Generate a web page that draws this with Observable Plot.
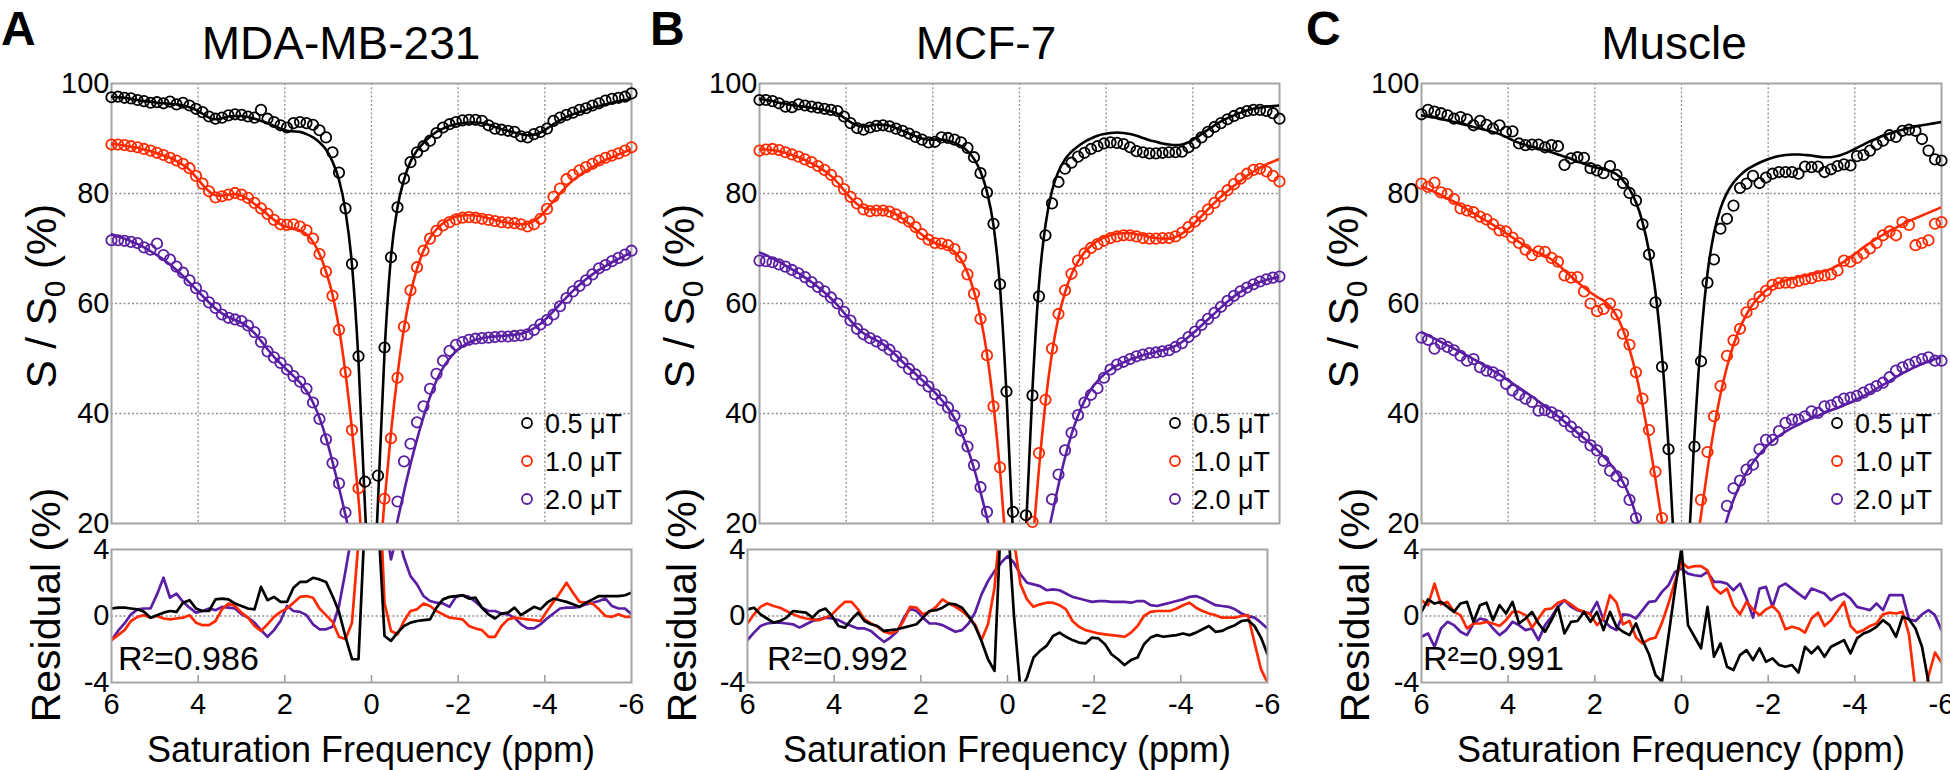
<!DOCTYPE html>
<html><head><meta charset="utf-8">
<script src="https://cdn.jsdelivr.net/npm/d3@7"></script>
<script src="https://cdn.jsdelivr.net/npm/@observablehq/plot@0.6"></script>
<style>
body{margin:0;background:#fff;overflow:hidden;}
#fig{position:relative;width:1950px;height:770px;overflow:hidden;background:#fff;}
#fig svg{position:absolute;}
</style></head><body><div id="fig"></div><script>
// ---------- shared categories / ticks ----------
const offsets = [6,5.85,5.7,5.55,5.4,5.25,5.1,4.95,4.8,4.65,
 4.5,4.35,4.2,4.05,3.9,3.75,3.6,3.45,3.3,3.15,
 3,2.85,2.7,2.55,2.4,2.25,2.1,1.95,1.8,1.65,
 1.5,1.35,1.2,1.05,0.9,0.75,0.6,0.45,0.3,0.15,
 0,
 -0.15,-0.3,-0.45,-0.6,-0.75,-0.9,-1.05,-1.2,-1.35,-1.5,
 -1.65,-1.8,-1.95,-2.1,-2.25,-2.4,-2.55,-2.7,-2.85,-3,
 -3.15,-3.3,-3.45,-3.6,-3.75,-3.9,-4.05,-4.2,-4.35,-4.5,
 -4.65,-4.8,-4.95,-5.1,-5.25,-5.4,-5.55,-5.7,-5.85,-6];
const fields = ["0.5 μT","1.0 μT","2.0 μT"];
const fieldColors = ["#000000","#ff2a00","#5a1ea3"];
const panelNames = ["MDA-MB-231","MCF-7","Muscle"];
const panelLetters = ["A","B","C"];
const r2Values = ["0.986","0.992","0.991"];
const xTicks = [6,4,2,0,-2,-4,-6];
const xGrid = [4,2,0,-2,-4];
const yTicks = [20,40,60,80,100];
const yGrid = [40,60,80];
const resTicks = [-4,0,4];

// ---------- A: MDA-MB-231 ----------
const ptsA05 = [97.5,97.6,97.4,97.3,97.0,96.8,96.5,96.6,96.4,96.7,
 96.2,96.5,96.0,95.4,94.8,94.0,93.6,93.8,94.2,94.4,
 94.3,94.0,93.8,95.2,93.6,93.0,92.4,92.0,92.8,93.0,
 92.8,92.5,91.5,90.2,87.5,83.8,77.3,67.2,50.4,27.6,
 5,
 28.7,52.0,68.4,77.5,82.7,85.7,87.5,88.6,89.6,91.0,
 92.0,92.6,93.0,93.3,93.4,93.4,93.2,92.4,91.8,91.6,
 91.4,91.2,90.4,90.2,90.8,91.2,91.8,93.2,93.8,94.3,
 94.7,95.2,95.5,96.0,96.4,96.9,97.2,97.4,97.6,98.2];
const fitA05 = [97.6,97.5,97.4,97.2,97.0,96.8,96.7,96.5,96.4,96.3,
 96.2,96.0,95.7,95.2,94.5,93.8,93.5,93.7,94.0,94.1,
 94.1,93.9,93.6,93.2,92.8,92.3,91.8,91.4,91.3,91.2,
 90.8,90.2,89.3,88.0,85.8,82.5,76.8,67.0,49.5,23,
 3,
 24,51,68.5,77.5,82.5,85.8,87.8,89.2,90.3,91.2,
 91.8,92.3,92.6,92.8,92.9,92.9,92.8,92.5,92.1,91.7,
 91.4,91.1,90.8,90.6,90.7,91.1,91.8,92.6,93.3,93.9,
 94.4,94.8,95.2,95.6,95.9,96.2,96.5,96.8,97.0,97.2];
const ptsA10 = [88.9,88.9,88.8,88.6,88.4,88.1,87.8,87.4,87.0,86.5,
 86.0,85.4,84.6,83.2,81.8,80.4,79.3,79.5,79.8,80.1,
 79.8,79.2,78.3,77.3,76.3,75.2,74.4,74.3,74.4,74.0,
 73.3,71.8,69.0,65.8,61.4,55.2,47.5,37.0,26.4,12,
 3,
 12,24.5,35.5,46.5,55.8,62.4,66.6,69.6,71.8,73.2,
 74.2,74.8,75.3,75.6,75.7,75.6,75.4,75.2,75.0,74.8,
 74.7,74.6,74.4,74.0,74.4,75.4,77.2,79.4,80.9,82.6,
 83.4,84.2,84.8,85.4,86.0,86.5,86.9,87.3,87.8,88.4];
const fitA10 = [89.0,88.9,88.7,88.5,88.3,88.0,87.7,87.3,86.9,86.5,
 85.9,85.2,84.3,83.0,81.6,80.4,79.7,79.6,79.8,79.9,
 79.6,79.0,78.1,77.2,76.2,75.2,74.4,73.9,73.6,73.3,
 72.6,71.2,69.0,65.8,61.6,55.5,47.3,37.0,24.5,10,
 3,
 10,24,36.5,47.0,55.5,61.8,66.3,69.6,71.9,73.5,
 74.6,75.3,75.8,76.0,76.1,76.0,75.8,75.5,75.2,74.9,
 74.7,74.5,74.4,74.5,75.0,75.9,77.2,78.6,80.0,81.3,
 82.4,83.3,84.1,84.8,85.5,86.1,86.6,87.1,87.6,88.1];
const ptsA20 = [71.5,71.5,71.4,71.2,71.0,70.2,69.8,70.9,68.8,68.0,
 66.7,65.6,64.2,62.8,61.4,60.2,59.2,58.0,57.4,57.1,
 56.8,56.0,54.8,53.0,51.3,50.2,49.2,48.0,46.8,45.8,
 44.5,42.0,39.0,35.3,31.0,27.3,22.0,16,10,5,
 3,
 5,10,16,24.0,31.3,34.5,38.4,41.3,44.5,47.2,
 49.6,51.4,52.5,53.0,53.4,53.6,53.7,53.8,53.9,54.0,
 54.0,54.1,54.2,54.4,55.2,56.2,57.0,58.0,59.5,61.0,
 62.2,63.2,64.2,65.3,66.4,67.0,67.7,68.3,68.9,69.6];
const fitA20 = [72.6,72.2,71.8,71.3,70.8,70.2,69.5,68.8,68.0,67.1,
 66.1,65.0,63.8,62.6,61.4,60.2,59.1,58.2,57.5,57.0,
 56.5,55.7,54.6,53.2,51.7,50.3,49.1,47.9,46.8,45.6,
 44.1,42.0,39.2,35.6,31.2,26.5,21.5,16,10,5,
 3,
 5,10,15,20.5,25.8,30.8,35.3,39.4,43.0,46.0,
 48.3,50.0,51.3,52.2,52.9,53.4,53.7,53.9,54.0,54.1,
 54.2,54.3,54.5,54.9,55.5,56.3,57.4,58.6,59.9,61.1,
 62.3,63.4,64.4,65.3,66.1,66.8,67.5,68.1,68.7,69.3];
const resA05 = [0.45,0.5,0.5,0.45,0.4,0.25,-0.1,0.05,0.2,0.3,
 0.25,0.8,0.95,0.45,0.3,0.3,1.0,1.05,1.0,0.75,
 0.6,0.45,0.4,1.75,0.95,1.15,0.85,0.85,1.7,2.05,
 2.05,2.3,2.2,2.05,1.2,0.25,-1.25,-2.6,-2.6,6,
 20,
 6,-1.2,-1.5,-1.0,-0.6,-0.4,-0.3,-0.25,-0.2,0.5,
 1.0,1.15,1.2,1.25,1.05,1.1,0.5,0.1,-0.15,0.15,
 0.2,0.5,0.05,0.3,0.55,0.4,0.8,1.05,0.95,0.85,
 0.7,0.55,0.8,1.0,1.2,1.2,1.2,1.2,1.25,1.4];
const resA10 = [-1.45,-1.15,-0.85,-0.3,-0.05,0.05,-0.1,0.0,-0.15,-0.2,
 -0.15,-0.1,0.05,-0.4,-0.55,-0.55,-0.3,0.4,0.75,0.6,
 0.2,-0.1,-0.6,-0.9,-0.5,-0.05,0.25,0.45,0.8,1.15,
 1.2,1.1,0.45,0.05,-0.35,-1.25,-1.4,-0.4,4.5,10,
 15,
 10,0.8,-0.9,-1.1,-0.3,0.3,0.4,0.75,0.6,0.3,
 0.1,-0.1,-0.15,-0.2,-0.6,-0.75,-0.85,-1.25,-1.25,-0.6,
 -0.2,-0.1,-0.15,-0.2,-0.25,-0.3,0.3,0.85,1.4,2.0,
 1.4,0.85,0.8,0.75,0.4,0.0,-0.05,0.1,-0.05,-0.05];
const resA20 = [-1.45,-0.9,-0.45,0.1,0.4,0.45,0.45,1.3,2.3,1.1,
 1.35,0.85,0.5,0.2,0.3,0.45,0.35,0.55,0.5,0.45,
 0.1,-0.1,-0.4,-0.85,-1.25,-0.85,-0.3,0.6,0.3,0.25,
 0.05,-0.5,-0.8,-0.8,-0.65,0.6,2.7,5,9,12,
 14,
 12,6,3.4,5.0,3.5,2.4,1.9,1.2,0.9,0.8,
 0.75,0.55,1.15,1.25,1.15,0.85,0.5,0.3,0.3,0.15,
 0.1,-0.1,-0.5,-0.75,-0.75,-0.5,-0.15,0.15,0.45,0.5,
 0.5,0.55,0.7,0.8,0.9,1.05,0.6,0.45,0.45,0.1];

// ---------- B: MCF-7 ----------
const ptsB05 = [97.0,97.0,96.8,96.4,95.8,95.7,96.2,96.0,95.8,95.6,
 95.4,95.2,95.0,94.0,92.8,91.9,91.6,92.0,92.3,92.4,
 92.2,91.8,91.4,90.9,90.3,89.8,89.3,89.4,90.2,90.1,
 89.8,89.3,88.3,86.6,83.7,80.2,74.5,63.5,44.0,22.1,
 2,
 21.5,43.3,61.3,72.4,78.2,82.1,84.5,85.6,86.7,87.4,
 88.1,88.6,89.1,89.3,89.2,89.0,88.4,87.7,87.5,87.3,
 87.3,87.4,87.5,87.5,87.6,88.4,89.2,90.2,91.2,92.1,
 92.8,93.5,94.1,94.6,95.0,95.2,95.2,95.0,94.6,93.6];
const fitB05 = [97.2,97.0,96.8,96.5,96.3,96.1,95.9,95.8,95.6,95.4,
 95.2,94.9,94.5,93.8,93.0,92.4,92.2,92.3,92.5,92.5,
 92.3,91.9,91.4,90.9,90.4,90.0,89.8,89.8,89.8,89.6,
 89.2,88.6,87.7,86.3,84.0,80.3,74.2,63.0,43.5,18,
 2,
 19,44.5,63.5,74.3,80.5,84.0,86.2,87.6,88.6,89.4,
 90.0,90.5,90.8,91.0,91.1,91.0,90.8,90.5,90.1,89.7,
 89.4,89.1,88.9,88.8,88.9,89.3,90.0,90.8,91.6,92.4,
 93.1,93.7,94.2,94.7,95.1,95.4,95.6,95.8,95.9,96.0];
const ptsB10 = [87.8,88.0,88.1,87.9,87.5,87.1,86.7,86.2,85.7,85.0,
 84.3,83.4,82.2,80.8,79.4,78.2,77.1,76.8,76.9,76.9,
 76.7,76.2,75.6,74.9,73.9,72.6,71.6,71.0,70.9,70.6,
 69.9,68.4,65.3,61.8,57.2,50.6,41.3,30.2,17,5,
 2,
 5,20.3,32.8,42.5,51.8,58.1,62.4,65.4,67.8,69.1,
 70.1,70.8,71.4,71.9,72.2,72.4,72.4,72.2,71.9,71.8,
 71.8,71.9,71.9,72.2,72.9,73.9,74.9,75.9,77.1,78.3,
 79.5,80.6,81.7,82.7,83.6,84.3,84.5,84.0,83.2,82.2];
const fitB10 = [88.0,88.0,87.9,87.7,87.4,87.0,86.6,86.1,85.5,84.9,
 84.1,83.2,82.0,80.6,79.2,78.1,77.4,77.1,77.1,77.1,
 76.8,76.2,75.4,74.5,73.5,72.5,71.6,71.0,70.6,70.2,
 69.4,68.0,65.6,62.2,57.5,50.8,41.5,29.5,15,5,
 2,
 5,16,30.0,42.0,51.0,57.5,62.0,65.3,67.6,69.3,
 70.5,71.4,72.0,72.4,72.7,72.8,72.8,72.6,72.4,72.1,
 71.9,71.8,71.8,72.1,72.7,73.6,74.7,75.9,77.1,78.3,
 79.4,80.4,81.4,82.3,83.2,84.0,84.7,85.3,85.8,86.3];
const ptsB20 = [67.8,67.7,67.5,67.1,66.7,66.1,65.5,64.8,63.9,63.0,
 62.2,61.1,60.0,58.5,56.9,55.4,54.4,53.7,53.1,52.4,
 51.6,50.4,49.3,48.1,47.1,46.0,44.9,43.5,42.4,41.1,
 39.6,36.9,34.0,30.6,26.6,22.1,17,11,6,3,
 2,
 3,6,11,17,24.4,28.9,33.3,36.5,39.7,42.0,
 43.4,44.6,46.5,48.0,48.9,49.4,49.9,50.4,50.7,51.0,
 51.1,51.3,51.5,52.1,52.8,53.9,54.9,56.1,57.2,58.3,
 59.4,60.5,61.4,62.2,62.9,63.5,64.0,64.4,64.7,64.9];
const fitB20 = [69.3,68.8,68.2,67.6,66.9,66.2,65.5,64.7,63.9,63.0,
 62.0,60.9,59.7,58.3,56.9,55.6,54.6,53.9,53.3,52.6,
 51.7,50.6,49.4,48.3,47.2,46.1,45.0,43.8,42.5,41.0,
 39.1,36.7,33.7,30.0,25.7,21.0,16,11,6,3,
 2,
 3,6,11,16,21.5,27.0,32.0,36.2,39.6,42.3,
 44.4,45.9,47.1,48.0,48.7,49.3,49.8,50.2,50.6,50.9,
 51.2,51.5,51.8,52.3,53.0,53.9,54.9,56.0,57.1,58.2,
 59.3,60.3,61.3,62.1,62.8,63.4,63.9,64.3,64.6,64.9];
const resB05 = [0.4,0.5,0.1,-0.15,-0.4,-0.3,-0.1,0.3,0.25,0.2,
 -0.1,0.3,0.45,0.0,-0.6,-0.7,-0.2,0.2,-0.3,-0.5,
 -0.6,-0.9,-0.85,-0.8,-0.7,-0.6,-0.5,-0.1,0.3,0.35,
 0.5,0.75,0.7,0.5,0.0,-0.6,-1.5,-2.6,-3.3,6,
 6,
 0.0,-4.5,-3.7,-2.5,-2.1,-1.8,-1.2,-1.0,-1.25,-1.45,
 -1.6,-1.65,-1.3,-1.35,-1.7,-2.3,-2.6,-2.95,-2.65,-2.5,
 -1.7,-1.3,-1.15,-1.25,-1.2,-1.15,-1.05,-1.15,-1.0,-0.8,
 -0.6,-0.95,-0.9,-0.7,-0.55,-0.3,-0.25,-0.6,-1.3,-2.3];
const resB10 = [-0.45,0.1,0.55,0.75,0.6,0.5,0.3,0.1,-0.05,-0.15,
 -0.2,-0.25,-0.1,0.1,0.5,0.85,0.85,0.4,-0.2,-0.45,
 -0.65,-0.95,-1.05,-0.9,-0.3,0.55,0.5,0.1,0.25,0.55,
 1.0,0.75,0.55,0.3,-0.05,-0.5,-1.45,-0.5,1.7,6,
 8,
 4.5,1.9,1.0,0.55,0.7,0.8,0.8,0.65,0.4,-0.3,
 -0.65,-0.85,-0.95,-1.05,-1.1,-1.15,-1.2,-1.25,-1.0,-0.6,
 0.0,0.25,0.3,0.3,0.3,0.45,0.65,0.8,0.5,0.3,
 0.15,0.05,-0.1,-0.1,-0.1,0.0,0.05,-1.6,-3.2,-4.0];
const resB20 = [-1.45,-1.0,-0.6,-0.45,-0.4,-0.4,-0.45,-0.5,-0.7,-0.5,
 -0.3,-0.2,-0.1,-0.15,-0.25,-0.45,-0.6,-0.75,-0.75,-0.9,
 -1.25,-1.55,-1.3,-0.95,-0.15,0.45,0.3,-0.1,-0.45,-0.45,
 -0.55,-0.75,-0.95,-0.85,-0.45,0.2,1.3,2.1,2.7,3.2,
 3.6,
 3.2,2.5,2.0,1.9,1.8,1.55,1.6,1.55,1.35,1.15,
 1.05,0.95,0.85,0.9,0.9,0.85,0.85,0.85,0.8,0.9,
 0.9,0.65,0.6,0.7,0.8,0.9,1.0,1.15,1.2,1.05,
 0.85,0.65,0.6,0.55,0.4,0.15,0.0,-0.1,-0.4,-0.75];

// ---------- C: Muscle ----------
const ptsC05 = [94.4,95.2,94.9,94.6,94.2,93.6,93.9,93.5,92.4,93.2,
 92.5,91.8,92.4,91.2,91.3,89.1,88.8,88.9,88.9,88.4,
 88.8,88.6,85.2,86.4,86.6,86.5,84.6,84.2,83.7,85.0,
 83.4,81.9,80.1,78.7,74.4,68.9,60.2,48.5,33.5,15,
 5,
 15,34.0,49.5,63.8,68.0,73.6,75.4,77.8,81.0,81.8,
 83.2,81.9,82.9,83.6,83.9,83.9,83.9,83.6,84.9,84.8,
 84.9,83.9,84.4,85.0,85.3,85.1,86.8,87.0,87.8,88.9,
 89.6,90.6,90.3,91.4,91.6,91.4,89.9,87.8,86.2,86.0];
const fitC05 = [94.2,94.0,93.8,93.5,93.3,93.0,92.7,92.4,92.1,91.8,
 91.5,91.2,90.8,90.3,89.7,89.2,88.8,88.5,88.2,87.9,
 87.5,87.1,86.7,86.3,85.8,85.4,85.0,84.7,84.4,84.1,
 83.5,82.4,80.8,78.4,74.8,69.5,62.0,50.5,34.0,14,
 5,
 14,36.0,53.5,65.5,72.8,77.3,80.1,82.0,83.3,84.3,
 85.0,85.6,86.1,86.5,86.8,87.0,87.1,87.1,87.0,86.9,
 86.7,86.6,86.6,86.8,87.2,87.7,88.3,88.9,89.5,90.0,
 90.5,90.9,91.3,91.6,91.9,92.2,92.4,92.6,92.8,93.0];
const ptsC10 = [81.8,81.2,82.0,80.2,79.9,79.0,77.3,76.9,76.6,75.8,
 75.3,74.4,73.3,73.1,72.0,71.0,69.8,68.8,69.5,69.4,
 68.3,67.6,65.1,64.7,64.8,62.2,60.0,58.6,59.0,60.0,
 58.0,54.5,52.5,47.5,42.7,37.0,29.4,21.0,12,4,
 2,
 4,12,24.3,33.0,39.5,45.0,50.5,53.3,55.4,58.4,
 59.9,61.2,62.3,63.4,63.7,63.8,63.8,64.1,64.4,64.6,
 65.0,65.1,65.3,66.0,67.8,67.6,68.3,69.1,70.0,71.0,
 72.4,73.1,72.4,74.8,74.3,70.6,71.0,71.5,74.5,74.8];
const fitC10 = [81.3,80.8,80.3,79.7,79.1,78.5,77.8,77.1,76.4,75.7,
 75.0,74.3,73.6,72.8,72.0,71.2,70.4,69.7,69.2,68.7,
 68.0,67.1,66.0,64.9,63.9,62.9,62.0,61.2,60.5,59.5,
 57.8,55.2,51.7,47.2,41.6,35.2,28.0,20.3,12,5,
 2,
 5,13,21.5,29.8,37.2,43.5,48.5,52.5,55.6,58.0,
 59.9,61.3,62.4,63.2,63.8,64.2,64.5,64.8,65.0,65.3,
 65.6,65.9,66.3,66.9,67.6,68.4,69.3,70.2,71.0,71.8,
 72.5,73.2,73.8,74.4,75.0,75.5,76.0,76.5,77.0,77.5];
const ptsC20 = [53.8,53.4,51.8,52.7,52.1,51.5,50.5,49.6,49.9,48.4,
 47.8,47.5,46.9,45.4,44.2,43.4,42.7,42.1,40.5,40.6,
 40.2,39.6,38.6,37.6,36.6,35.7,34.2,33.3,31.4,29.6,
 28.6,27.5,24.3,21.0,17,12,8,5,3,2,
 2,
 2,3,5,8,12,17,23.2,26.4,27.8,29.8,
 30.7,33.5,35.2,35.2,36.8,38.3,38.9,38.9,39.5,40.4,
 40.1,41.3,41.5,42.1,42.7,42.9,43.2,43.8,44.4,45.0,
 45.6,46.6,47.8,48.4,48.9,49.4,49.9,50.2,49.6,49.6];
const fitC20 = [54.8,54.2,53.6,53.0,52.4,51.8,51.2,50.5,49.9,49.2,
 48.5,47.8,47.1,46.3,45.5,44.7,43.9,43.1,42.2,41.3,
 40.4,39.5,38.5,37.5,36.5,35.5,34.5,33.4,32.2,30.9,
 29.4,27.5,25.0,21.5,17,12,8,5,3,2,
 2,
 2,3,5,8,12,16.5,20.8,24.3,27.0,29.3,
 31.1,32.6,33.9,35.0,35.9,36.7,37.4,38.0,38.6,39.1,
 39.6,40.1,40.6,41.0,41.5,42.0,42.6,43.2,43.8,44.5,
 45.2,45.9,46.6,47.3,47.9,48.5,49.0,49.5,49.9,50.2];
const resC05 = [0.25,1.0,0.75,0.85,0.55,0.25,0.75,0.85,-0.35,0.65,
 0.8,-0.25,0.65,0.15,0.85,-0.45,-0.15,0.25,-0.45,-0.95,
 -0.25,0.55,-1.05,-0.35,-0.3,0.25,-0.35,0.25,-0.85,0.25,
 -0.65,-0.95,-1.15,-0.45,-1.45,-2.3,-3.55,-3.95,-1.2,1.6,
 4.1,
 -0.55,-1.25,-1.95,0.55,-2.45,-1.65,-3.05,-3.25,-2.35,-2.05,
 -2.65,-1.95,-2.75,-2.55,-2.95,-3.05,-2.95,-3.4,-1.85,-2.25,
 -1.85,-2.45,-1.85,-1.65,-1.45,-2.25,-1.35,-1.05,-0.9,-0.65,
 -0.25,-0.55,-1.25,-0.05,-0.2,-0.75,-1.85,-4.0,-6,-7];
const resC10 = [0.95,0.65,1.95,0.7,0.85,0.25,0.05,-0.75,-0.45,-0.45,
 -0.35,-0.45,-0.6,-0.25,0.25,0.25,0.05,-0.7,-0.15,0.4,
 0.45,0.8,0.95,0.7,0.4,0.25,0.1,-0.55,-0.15,1.25,
 0.8,-0.5,-0.3,-1.3,-1.65,-1.4,-1.3,-0.4,0.75,2.1,
 3.25,
 2.9,3.0,3.0,2.75,1.7,1.35,1.65,0.6,0.1,0.85,
 0.4,0.05,0.4,0.6,0.2,-0.8,-0.65,-0.75,-1.0,-0.15,
 0.2,-0.6,-0.25,0.3,0.85,-0.6,-1.0,-0.85,-0.6,-0.45,
 0.1,0.2,0.15,0.25,-1.1,-4.5,-5.5,-3.6,-2.2,-2.8];
const resC20 = [-1.25,-1.05,-1.85,-0.75,-0.35,-0.55,-0.95,-1.15,-0.45,-0.15,
 -0.25,-0.75,-1.15,-0.85,-0.35,-0.55,-0.85,-0.75,-1.45,-0.55,
 -0.05,0.55,0.95,0.55,0.35,0.25,0.15,0.85,-0.25,-0.65,
 -0.85,0.1,0.05,-0.15,0.35,0.85,0.9,1.45,1.85,2.65,
 2.85,
 2.55,2.45,2.4,2.65,2.05,2.05,1.95,1.55,1.95,1.05,
 -0.1,1.65,1.75,0.55,1.75,1.95,1.65,1.35,1.05,1.65,
 1.5,1.35,0.95,1.2,1.35,1.05,0.55,0.45,0.35,0.75,
 0.35,1.25,1.25,1.25,-0.2,-0.3,0.1,0.35,0.05,-0.85];

// ---------- assembly ----------
const panelSeries = [
  {pts:[ptsA05,ptsA10,ptsA20], fit:[fitA05,fitA10,fitA20], res:[resA05,resA10,resA20]},
  {pts:[ptsB05,ptsB10,ptsB20], fit:[fitB05,fitB10,fitB20], res:[resB05,resB10,resB20]},
  {pts:[ptsC05,ptsC10,ptsC20], fit:[fitC05,fitC10,fitC20], res:[resC05,resC10,resC20]}
];
// layout (pixel positions of each panel's frames and labels)
const layout = [
  {top:111, res:111, title:341, letter:1,    ylabTop:56,   ylabRes:60,   r2dx:7},
  {top:759, res:747, title:986, letter:650,  ylabTop:694,  ylabRes:696,  r2dx:20},
  {top:1421,res:1421,title:1674,letter:1306, ylabTop:1358, ylabRes:1369, r2dx:2}
];
const FW = 520, ML = 100, MR = 10;
const FONT = "'Liberation Sans', Arial, Helvetica, sans-serif";
const fig = document.getElementById("fig");
const fmt = d => String(d);
const gridStyle = {stroke:"#8f8f8f", strokeOpacity:1, strokeWidth:1.3, strokeDasharray:"2,2.2"};
const frameStyle = {stroke:"#a4a4a4", strokeWidth:2};
const colorScale = {domain: fields, range: fieldColors};

function rows(arrs, keepVisible) {
  const out = [];
  for (let k = arrs.length - 1; k >= 0; k--) {
    arrs[k].forEach((v, i) => {
      if (!keepVisible || (v >= 20 && v <= 100)) out.push({x: offsets[i], v, s: fields[k]});
    });
  }
  return out;
}

panelSeries.forEach((p, pi) => {
  const L = layout[pi];
  const top = Plot.plot({
    width: ML + FW + MR, height: 540,
    marginLeft: ML, marginRight: MR, marginTop: 83, marginBottom: 17,
    style: {background: "transparent", overflow: "visible", fontFamily: FONT, fontSize: "29px", color: "#000"},
    x: {domain: [6, -6], axis: null},
    y: {domain: [20, 100], ticks: yTicks, tickSize: 0, tickPadding: 2, tickFormat: fmt, label: null},
    color: colorScale,
    marks: [
      Plot.ruleX(xGrid, gridStyle),
      Plot.ruleY(yGrid, gridStyle),
      Plot.frame(frameStyle),
      Plot.line(rows(p.fit, false), {x: "x", y: "v", z: "s", stroke: "s", strokeWidth: 2.6, curve: "monotone-x", clip: true}),
      Plot.dot(rows(p.pts, true), {x: "x", y: "v", stroke: "s", r: 5.2, strokeWidth: 1.8})
    ]
  });
  top.style.left = (L.top - ML) + "px";
  top.style.top = "0px";
  fig.appendChild(top);

  const res = Plot.plot({
    width: ML + FW + MR, height: 212,
    marginLeft: ML, marginRight: MR, marginTop: 29, marginBottom: 50,
    style: {background: "transparent", overflow: "visible", fontFamily: FONT, fontSize: "29px", color: "#000"},
    x: {domain: [6, -6], ticks: xTicks, tickSize: 0, tickPadding: 11, tickFormat: fmt, label: null},
    y: {domain: [-4, 4], ticks: resTicks, tickSize: 0, tickPadding: 2, tickFormat: fmt, label: null},
    color: colorScale,
    marks: [
      Plot.ruleY([0], gridStyle),
      Plot.ruleX(xGrid, {stroke: "#9a9a9a", strokeWidth: 1.5, insetTop: 126}),
      Plot.line(rows(p.res, false), {x: "x", y: "v", z: "s", stroke: "s", strokeWidth: 2.7, clip: true}),
      Plot.frame(frameStyle)
    ]
  });
  res.style.left = (L.res - ML) + "px";
  res.style.top = "520px";
  fig.appendChild(res);
});

// ---------- titles, axis titles, legends, annotations ----------
const ov = d3.select(fig).append("svg")
  .attr("width", 1950).attr("height", 770)
  .style("left", "0px").style("top", "0px")
  .style("pointer-events", "none")
  .style("font-family", FONT).style("white-space", "pre");

panelNames.forEach((name, pi) => {
  const L = layout[pi];
  ov.append("text").attr("x", L.letter).attr("y", 45).attr("font-size", 48)
    .attr("font-weight", "bold").text(panelLetters[pi]);
  ov.append("text").attr("x", L.title).attr("y", 59).attr("font-size", 46)
    .attr("text-anchor", "middle").text(name);

  const yl = ov.append("text").attr("transform", `translate(${L.ylabTop},296) rotate(-90)`)
    .attr("text-anchor", "middle").attr("font-size", 42);
  yl.append("tspan").text("S / S");
  yl.append("tspan").attr("font-size", 30).attr("dy", 9).text("0");
  yl.append("tspan").attr("dy", -9).text(" (%)");

  ov.append("text").attr("transform", `translate(${L.ylabRes},605) rotate(-90)`)
    .attr("text-anchor", "middle").attr("font-size", 41).text("Residual (%)");

  ov.append("text").attr("x", L.res + FW / 2).attr("y", 762).attr("text-anchor", "middle")
    .attr("font-size", 36).text("Saturation Frequency (ppm)");

  ov.append("text").attr("x", L.res + L.r2dx).attr("y", 670).attr("font-size", 34)
    .text("R\u00B2=" + r2Values[pi]);

  const right = L.top + FW;
  fields.forEach((f, k) => {
    const yy = 423 + k * 38;
    ov.append("circle").attr("cx", right - 104).attr("cy", yy).attr("r", 5)
      .attr("fill", "none").attr("stroke", fieldColors[k]).attr("stroke-width", 1.8);
    ov.append("text").attr("x", right - 86).attr("y", yy + 9.5).attr("font-size", 27).text(f);
  });
});
</script></body></html>
